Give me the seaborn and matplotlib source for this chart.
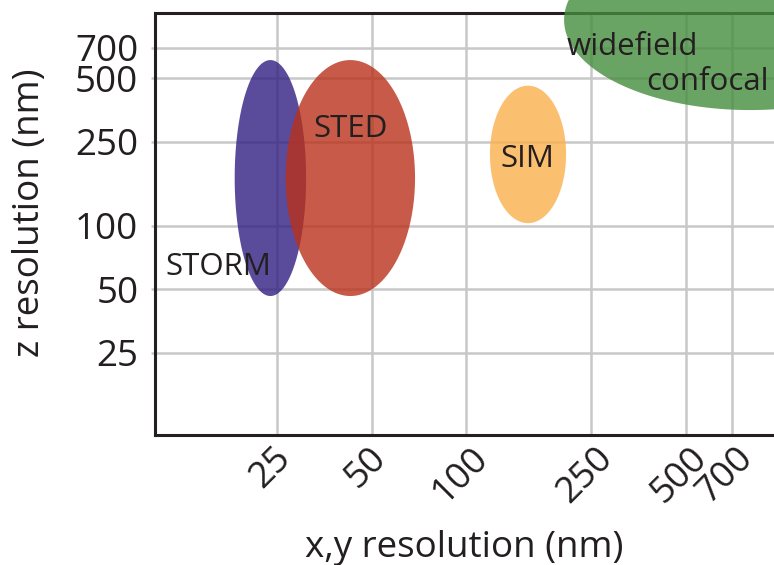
import numpy as np
import matplotlib
matplotlib.use('Agg')
import matplotlib.pyplot as plt
import seaborn as sns
from matplotlib.ticker import FixedLocator, NullLocator
from matplotlib.transforms import ScaledTranslation

# resolution ranges of each technique (nm)
techniques = ['STORM', 'STED', 'SIM', 'widefield confocal']
xy_low = [18.3, 26.6, 119, 205]
xy_high = [30.9, 68.7, 208, 3140]
z_low = [46.5, 46.5, 103, 354]
z_high = [611, 611, 462, 2530]
colors = ['#321E82', '#BA311A', '#FAB04C', '#458D3E']

tick_values = [25, 50, 100, 250, 500, 700]
tick_labels = ['25', '50', '100', '250', '500', '700']

# label text and where it sits (x, z baseline)
label_text = ['STORM', 'STED', 'SIM', 'widefield', 'confocal']
label_pos = [(16.2, 58.5), (42.9, 264), (156.8, 190), (337, 646), (585, 440)]

sns.set_theme(style='whitegrid')
plt.rcParams['font.family'] = ['Open Sans', 'DejaVu Sans']
ink = '#231f20'

fig = plt.figure(figsize=(7.74, 5.65), dpi=100)
ax = fig.add_axes([155 / 774, 130 / 565, 635 / 774, 421.7 / 565])
ax.set_xscale('log')
ax.set_yscale('log')
ax.set_xlim(10.2, 1075)
ax.set_ylim(10.2, 1018)

# ellipses in log space
t = np.linspace(0, 2 * np.pi, 300)
for i, name in enumerate(techniques):
    lx0, lx1 = np.log10(xy_low[i]), np.log10(xy_high[i])
    ly0, ly1 = np.log10(z_low[i]), np.log10(z_high[i])
    xs = 10 ** ((lx0 + lx1) / 2 + (lx1 - lx0) / 2 * np.cos(t))
    ys = 10 ** ((ly0 + ly1) / 2 + (ly1 - ly0) / 2 * np.sin(t))
    ax.fill(xs, ys, color=colors[i], alpha=0.8, lw=0, zorder=3,
            clip_on=(i != 3))

for s, (x, y) in zip(label_text, label_pos):
    ax.text(x, y, s, ha='center', va='baseline', fontsize=22.5, color=ink, zorder=5)

ax.xaxis.set_major_locator(FixedLocator(tick_values))
ax.yaxis.set_major_locator(FixedLocator(tick_values))
ax.xaxis.set_minor_locator(NullLocator())
ax.yaxis.set_minor_locator(NullLocator())
ax.set_xticklabels(tick_labels, rotation=45, ha='center')
ax.set_yticklabels(tick_labels)

ax.grid(True, which='major', color='#c8c8c8', lw=1.8)
ax.set_axisbelow(True)
ax.tick_params(axis='x', length=0, pad=4, labelsize=26.5, labelcolor=ink)
ax.tick_params(axis='y', left=True, length=3, width=1.8, color='#c8c8c8',
               pad=9, labelsize=26.5, labelcolor=ink)
for lab in ax.get_xticklabels():
    lab.set_transform(lab.get_transform() + ScaledTranslation(-0.06, 0, fig.dpi_scale_trans))

for side in ['left', 'bottom', 'top']:
    ax.spines[side].set_color(ink)
    ax.spines[side].set_linewidth(2.2)
    ax.spines[side].set_zorder(2.5)
ax.spines['right'].set_visible(False)

ax.set_xlabel('x,y resolution (nm)', fontsize=26.5, color=ink, va='baseline')
ax.set_ylabel('z resolution (nm)', fontsize=26.5, color=ink, va='baseline',
              rotation_mode='anchor')
ax.xaxis.set_label_coords((464 - 155) / 635, (435 - 557) / 421.7)
ax.yaxis.set_label_coords((39 - 155) / 635, (435 - 212.5) / 421.7)

fig.savefig('out.png', dpi=100)
